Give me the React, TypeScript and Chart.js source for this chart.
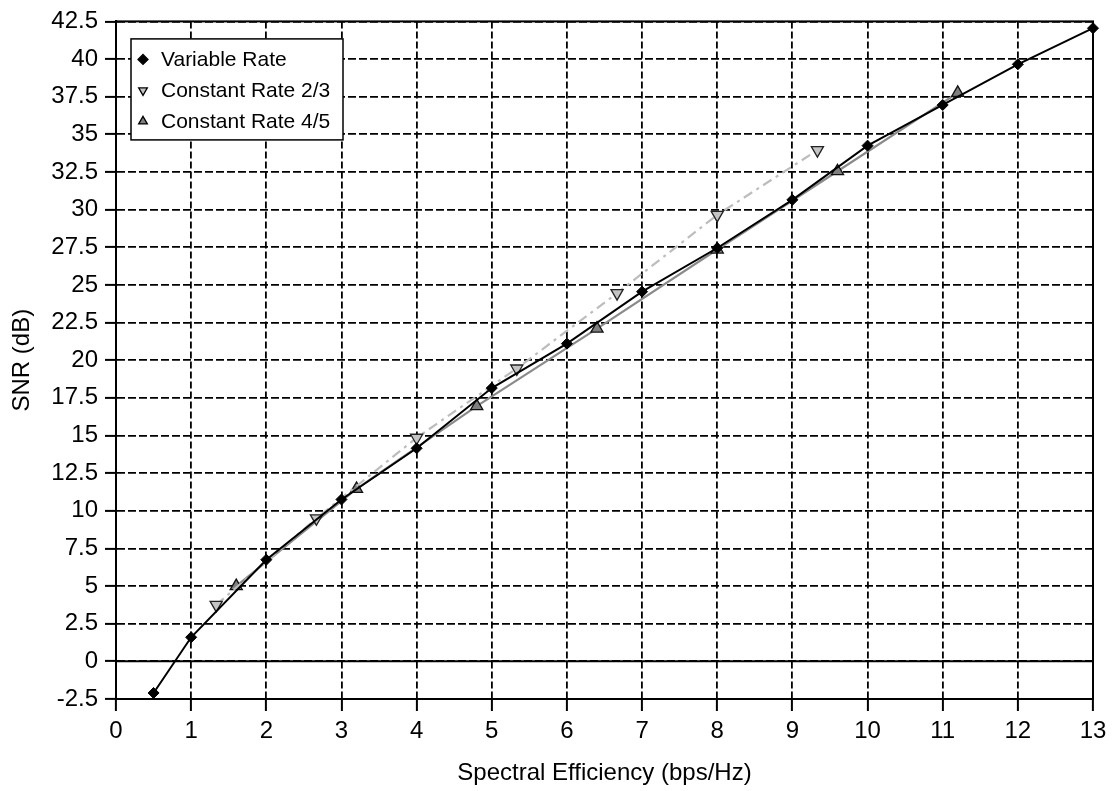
import React, { useEffect, useRef } from 'react';
import { Chart, registerables } from 'chart.js';

Chart.register(...registerables);

const variableX = [0.5, 1, 2, 3, 4, 5, 6, 7, 8, 9, 10, 11, 12, 13];
const variableY = [-2.1, 1.6, 6.75, 10.75, 14.15, 18.15, 21.1, 24.55, 27.45, 30.65, 34.25, 36.95, 39.65, 42.05];

const rate23X = [1.333, 2.667, 4, 5.333, 6.667, 8, 9.333];
const rate23Y = [3.75, 9.5, 14.85, 19.45, 24.45, 29.65, 33.95];

const rate45X = [1.6, 3.2, 4.8, 6.4, 8, 9.6, 11.2];
const rate45Y = [5.0, 11.45, 16.95, 22.1, 27.35, 32.55, 37.75];

const xTickValues = [0, 1, 2, 3, 4, 5, 6, 7, 8, 9, 10, 11, 12, 13];
const yTickValues = [-2.5, 0, 2.5, 5, 7.5, 10, 12.5, 15, 17.5, 20, 22.5, 25, 27.5, 30, 32.5, 35, 37.5, 40, 42.5];

const seriesLabels = ['Variable Rate', 'Constant Rate 2/3', 'Constant Rate 4/5'];
const xTitle = 'Spectral Efficiency (bps/Hz)';
const yTitle = 'SNR (dB)';

const FONT = "'Liberation Sans', Arial, Helvetica, sans-serif";

const toPoints = (xs: number[], ys: number[]) => xs.map((x, i) => ({ x, y: ys[i] }));

function drawMarker(ctx: CanvasRenderingContext2D, kind: string, x: number, y: number, r: number, fill: string, stroke: string) {
  ctx.save();
  ctx.beginPath();
  if (kind === 'diamond') {
    ctx.moveTo(x, y - r);
    ctx.lineTo(x + r, y);
    ctx.lineTo(x, y + r);
    ctx.lineTo(x - r, y);
  } else if (kind === 'up') {
    ctx.moveTo(x, y - r);
    ctx.lineTo(x + r * 0.866, y + r * 0.5);
    ctx.lineTo(x - r * 0.866, y + r * 0.5);
  } else {
    ctx.moveTo(x, y + r);
    ctx.lineTo(x + r * 0.866, y - r * 0.5);
    ctx.lineTo(x - r * 0.866, y - r * 0.5);
  }
  ctx.closePath();
  ctx.fillStyle = fill;
  ctx.fill();
  ctx.lineWidth = 1.3;
  ctx.strokeStyle = stroke;
  ctx.stroke();
  ctx.restore();
}

const framePlugin = {
  id: 'frameAndZero',
  beforeDatasetsDraw(chart: any) {
    const { ctx, chartArea, scales } = chart;
    ctx.save();
    ctx.strokeStyle = '#000';
    ctx.lineWidth = 2;
    const y0 = scales.y.getPixelForValue(0);
    ctx.beginPath();
    ctx.moveTo(chartArea.left, y0);
    ctx.lineTo(chartArea.right, y0);
    ctx.stroke();
    ctx.strokeRect(chartArea.left, chartArea.top, chartArea.right - chartArea.left, chartArea.bottom - chartArea.top);
    ctx.restore();
  },
};

const legendPlugin = {
  id: 'boxLegend',
  afterDraw(chart: any) {
    const { ctx, chartArea } = chart;
    const left = chartArea.left + 15;
    const top = chartArea.top + 17.5;
    const w = 212;
    const h = 101;
    ctx.save();
    ctx.fillStyle = '#fff';
    ctx.fillRect(left, top, w, h);
    ctx.strokeStyle = '#000';
    ctx.lineWidth = 1.5;
    ctx.strokeRect(left, top, w, h);
    const kinds = ['diamond', 'down', 'up'];
    const fills = ['#000', '#c4c4c4', '#808080'];
    ctx.font = `21px ${FONT}`;
    ctx.fillStyle = '#000';
    ctx.textBaseline = 'middle';
    ctx.textAlign = 'left';
    seriesLabels.forEach((label, i) => {
      const cy = top + 20.5 + i * 31;
      drawMarker(ctx, kinds[i], left + 12, cy, 5, fills[i], '#000');
      ctx.fillStyle = '#000';
      ctx.fillText(label, left + 30, cy + 1);
    });
    ctx.restore();
  },
};

export default function App() {
  const canvasRef = useRef<HTMLCanvasElement | null>(null);

  useEffect(() => {
    document.body.style.margin = '0';
    const canvas = canvasRef.current;
    if (!canvas) return;
    const chart = new Chart(canvas, {
      type: 'line',
      data: {
        datasets: [
          {
            label: seriesLabels[0],
            data: toPoints(variableX, variableY),
            borderColor: '#000',
            borderWidth: 2,
            pointStyle: 'rectRot',
            pointRadius: 5.5,
            pointBackgroundColor: '#000',
            pointBorderColor: '#000',
            pointBorderWidth: 1,
            tension: 0,
            clip: false,
          },
          {
            label: seriesLabels[1],
            data: toPoints(rate23X, rate23Y),
            borderColor: '#bdbdbd',
            borderWidth: 2.2,
            borderDash: [10, 5, 3, 5],
            pointStyle: 'triangle',
            rotation: 180,
            pointRadius: 7,
            pointBackgroundColor: '#c4c4c4',
            pointBorderColor: '#222',
            pointBorderWidth: 1.3,
            tension: 0,
            clip: false,
          },
          {
            label: seriesLabels[2],
            data: toPoints(rate45X, rate45Y),
            borderColor: '#8a8a8a',
            borderWidth: 2.2,
            pointStyle: 'triangle',
            pointRadius: 7,
            pointBackgroundColor: '#808080',
            pointBorderColor: '#111',
            pointBorderWidth: 1.3,
            tension: 0,
            clip: false,
          },
        ],
      },
      options: {
        responsive: false,
        animation: false,
        devicePixelRatio: 1,
        layout: { padding: { top: 18, right: 20, bottom: 0, left: 0 } },
        plugins: {
          legend: { display: false },
          tooltip: { enabled: false },
        },
        scales: {
          x: {
            type: 'linear',
            min: 0,
            max: 13,
            afterBuildTicks: (scale: any) => {
              scale.ticks = xTickValues.map((v) => ({ value: v }));
            },
            afterFit: (scale: any) => {
              scale.height = 92;
            },
            ticks: {
              color: '#000',
              font: { family: FONT, size: 24 },
              padding: 6,
              maxRotation: 0,
              autoSkip: false,
              callback: (v: any) => String(v),
            },
            grid: {
              color: '#000',
              lineWidth: 1.8,
              tickLength: 12,
              tickColor: '#000',
              tickWidth: 2,
            },
            border: { display: true, color: '#000', width: 2, dash: [7, 3] },
            title: {
              display: true,
              text: xTitle,
              color: '#000',
              font: { family: FONT, size: 24 },
              padding: { top: 0, bottom: 3 },
            },
          },
          y: {
            type: 'linear',
            min: -2.5,
            max: 42.5,
            afterBuildTicks: (scale: any) => {
              scale.ticks = yTickValues.map((v) => ({ value: v }));
            },
            afterFit: (scale: any) => {
              scale.width = 116;
            },
            ticks: {
              color: '#000',
              font: { family: FONT, size: 24 },
              padding: 7,
              autoSkip: false,
              callback: (v: any) => String(v),
            },
            grid: {
              color: '#000',
              lineWidth: 1.8,
              tickLength: 11,
              tickColor: '#000',
              tickWidth: 2,
            },
            border: { display: true, color: '#000', width: 2, dash: [8, 3] },
            title: {
              display: true,
              text: yTitle,
              color: '#000',
              font: { family: FONT, size: 24 },
              padding: { top: 8, bottom: 0 },
            },
          },
        },
      },
      plugins: [framePlugin, legendPlugin],
    } as any);
    return () => chart.destroy();
  }, []);

  return (
    <div style={{ width: 1113, height: 791 }}>
      <canvas ref={canvasRef} width={1113} height={791} style={{ display: 'block' }} />
    </div>
  );
}
